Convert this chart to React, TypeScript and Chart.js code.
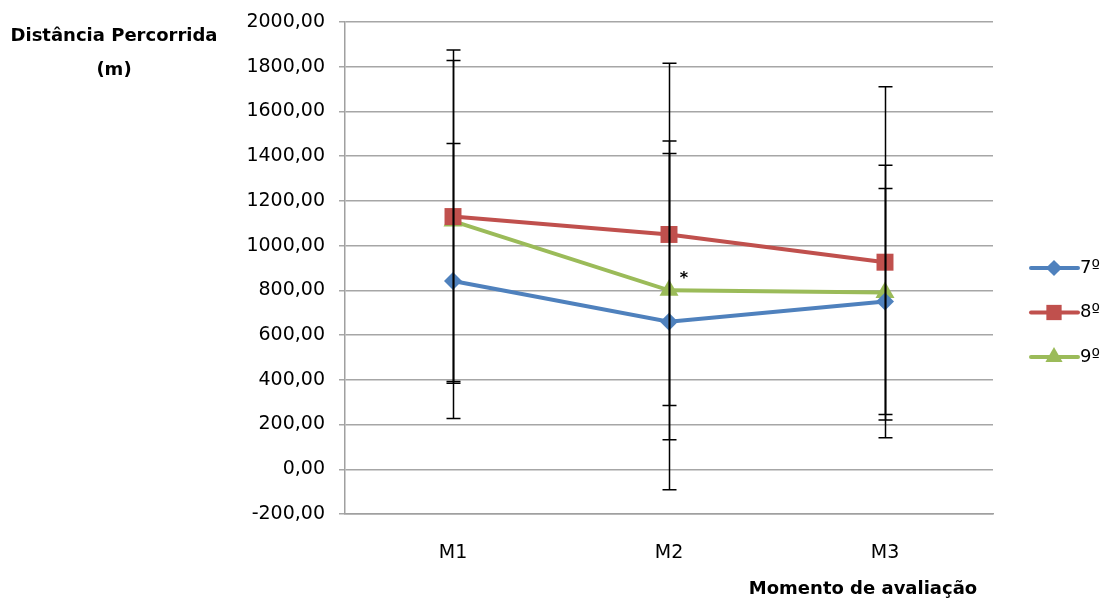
import React, { useEffect, useRef } from 'react';
import { Chart, registerables } from 'chart.js';

Chart.register(...registerables);

const categories = ['M1', 'M2', 'M3'];
const seriesNames = ['7º', '8º', '9º'];
const seriesColors = ['#4f81bd', '#c0504d', '#9bbb59'];
const means7 = [842, 660, 750];
const sd7 = [615, 752, 505];
const means8 = [1130, 1050, 926];
const sd8 = [745, 765, 785];
const means9 = [1110, 800, 790];
const sd9 = [718, 668, 570];
const yMin = -200;
const yMax = 2000;
const yStep = 200;
const yTitleLines = ['Distância Percorrida', '(m)'];
const xTitle = 'Momento de avaliação';
const asteriskSeries = 2;
const asteriskIndex = 1;

const FONT = 'DejaVu Sans';

const allMeans = [means7, means8, means9];
const allSd = [sd7, sd8, sd9];
const pointStyles = ['rectRot', 'rect', 'triangle'];
const pointRadii = [9, 12, 11];

function drawMarker(ctx: CanvasRenderingContext2D, style: string, x: number, y: number, r: number, color: string) {
  ctx.save();
  ctx.fillStyle = color;
  ctx.beginPath();
  if (style === 'rectRot') {
    ctx.moveTo(x, y - r);
    ctx.lineTo(x + r, y);
    ctx.lineTo(x, y + r);
    ctx.lineTo(x - r, y);
  } else if (style === 'rect') {
    const s = Math.SQRT1_2 * r;
    ctx.rect(x - s, y - s, 2 * s, 2 * s);
  } else {
    ctx.moveTo(x, y - r);
    ctx.lineTo(x + r * Math.sin(Math.PI / 3), y + r / 2);
    ctx.lineTo(x - r * Math.sin(Math.PI / 3), y + r / 2);
  }
  ctx.closePath();
  ctx.fill();
  ctx.restore();
}

const errorBarPlugin = {
  id: 'errorBars',
  afterDatasetsDraw(chart: any) {
    const ctx = chart.ctx;
    const yScale = chart.scales.y;
    ctx.save();
    ctx.strokeStyle = '#000';
    ctx.lineWidth = 1.5;
    chart.data.datasets.forEach((ds: any, i: number) => {
      const meta = chart.getDatasetMeta(i);
      meta.data.forEach((pt: any, j: number) => {
        const m = allMeans[i][j];
        const s = allSd[i][j];
        const x = Math.round(pt.x) + 0.5;
        const yt = yScale.getPixelForValue(m + s);
        const yb = yScale.getPixelForValue(m - s);
        ctx.beginPath();
        ctx.moveTo(x, yt);
        ctx.lineTo(x, yb);
        ctx.moveTo(x - 7, yt);
        ctx.lineTo(x + 7, yt);
        ctx.moveTo(x - 7, yb);
        ctx.lineTo(x + 7, yb);
        ctx.stroke();
      });
    });
    ctx.restore();
  },
};

const decorPlugin = {
  id: 'decor',
  afterDraw(chart: any) {
    const ctx = chart.ctx;
    ctx.save();
    ctx.fillStyle = '#000';
    ctx.textAlign = 'center';
    ctx.textBaseline = 'middle';
    ctx.font = `bold 18px ${FONT}`;
    ctx.fillText(yTitleLines[0], 114, 36);
    ctx.fillText(yTitleLines[1], 114, 70);
    ctx.font = `bold 18px ${FONT}`;
    ctx.fillText(xTitle, 863, 589);

    // asterisk
    const meta = chart.getDatasetMeta(asteriskSeries);
    const p = meta.data[asteriskIndex];
    ctx.font = `bold 16px ${FONT}`;
    ctx.fillText('*', p.x + 15, p.y - 12);

    // legend
    ctx.textAlign = 'left';
    ctx.font = `18px ${FONT}`;
    seriesNames.forEach((name, k) => {
      const y = 268 + k * 44.5;
      ctx.strokeStyle = seriesColors[k];
      ctx.lineWidth = 4;
      ctx.lineCap = 'round';
      ctx.beginPath();
      ctx.moveTo(1031, y);
      ctx.lineTo(1078, y);
      ctx.stroke();
      drawMarker(ctx, pointStyles[k], 1054, y, pointRadii[k] * 0.9, seriesColors[k]);
      ctx.fillStyle = '#000';
      ctx.fillText(name, 1080, y);
    });
    ctx.restore();
  },
};

export default function App() {
  const ref = useRef<HTMLCanvasElement>(null);
  useEffect(() => {
    if (!ref.current) return;
    const chart = new Chart(ref.current, {
      type: 'line',
      data: {
        labels: categories,
        datasets: allMeans.map((vals, i) => ({
          label: seriesNames[i],
          data: vals,
          borderColor: seriesColors[i],
          backgroundColor: seriesColors[i],
          borderWidth: 4,
          pointStyle: pointStyles[i] as any,
          pointRadius: pointRadii[i],
          pointBorderWidth: 0,
          tension: 0,
        })),
      },
      options: {
        responsive: false,
        animation: false,
        devicePixelRatio: 1,
        layout: { padding: { left: 0, top: 22, right: 116, bottom: 0 } },
        plugins: { legend: { display: false }, tooltip: { enabled: false } },
        scales: {
          x: {
            offset: true,
            grid: { display: false },
            border: { display: true, color: '#a0a0a0', width: 1.5 },
            ticks: { color: '#000', font: { family: FONT, size: 19 }, padding: 20 },
            afterFit(scale: any) { scale.height = 86; },
          },
          y: {
            min: yMin,
            max: yMax,
            grid: { color: '#a6a6a6', lineWidth: 1.5, tickLength: 6, drawTicks: true },
            border: { display: true, color: '#a0a0a0', width: 1.5 },
            ticks: {
              stepSize: yStep,
              color: '#000',
              font: { family: FONT, size: 19 },
              padding: 14,
              callback: (v: any) => Number(v).toFixed(2).replace('.', ','),
            },
            afterFit(scale: any) {
              scale.width = 345;
              scale.paddingTop = 0;
              scale.paddingBottom = 0;
            },
          },
        },
      },
      plugins: [errorBarPlugin, decorPlugin],
    });
    return () => chart.destroy();
  }, []);
  return (
    <div style={{ position: 'absolute', left: 0, top: 0, width: 1109, height: 600, background: '#fff' }}>
      <canvas ref={ref} width={1109} height={600} />
    </div>
  );
}
